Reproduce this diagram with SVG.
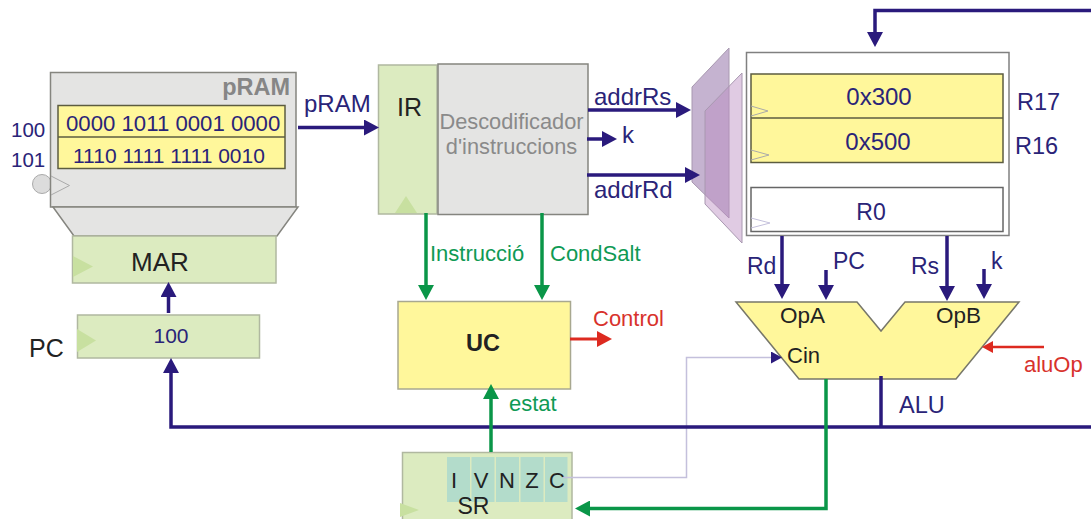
<svg xmlns="http://www.w3.org/2000/svg" width="1091" height="519" viewBox="0 0 1091 519">
<style>
text{font-family:"Liberation Sans",Arial,sans-serif;font-size:22px;fill:#2a2478}
.k{fill:#222}
.g{fill:#0f9a55}
.r{fill:#d8322c}
.m{text-anchor:middle}
.box{stroke:#85857f;stroke-width:1.5}
.gray{fill:#e4e4e3}
.grn{fill:#dcebc0;stroke:#b0b8a0;stroke-width:1.5}
.yel{fill:#fff79b;stroke:#5c5c40;stroke-width:1.5}
.tri{fill:#c8e0a0;stroke:none}
.clk{fill:none;stroke:#aaa;stroke-width:1}
.cell{fill:#b3dccb}
.n,.gr,.rd,.thin{fill:none}
.n{stroke:#2a1a7c;stroke-width:3.5}
.gr{stroke:#0a9648;stroke-width:3.5}
.rd{stroke:#dd2a20;stroke-width:3}
.thin{stroke:#c4c0dc;stroke-width:1.5}
</style>
<defs>
<marker id="an" markerUnits="userSpaceOnUse" markerWidth="15" markerHeight="16" refX="3" refY="8" orient="auto"><path d="M0 0L15 8L0 16Z" fill="#2a1a7c"/></marker>
<marker id="ag" markerUnits="userSpaceOnUse" markerWidth="15" markerHeight="16" refX="3" refY="8" orient="auto"><path d="M0 0L15 8L0 16Z" fill="#0a9648"/></marker>
<marker id="ar" markerUnits="userSpaceOnUse" markerWidth="15" markerHeight="16" refX="3" refY="8" orient="auto"><path d="M0 0L15 8L0 16Z" fill="#dd2a20"/></marker>
<marker id="as" markerUnits="userSpaceOnUse" markerWidth="11" markerHeight="12" refX="3" refY="6" orient="auto"><path d="M0 0L11 6L0 12Z" fill="#2a1a7c"/></marker>
<marker id="ad" markerUnits="userSpaceOnUse" markerWidth="11" markerHeight="12" refX="3" refY="6" orient="auto"><path d="M0 0L11 6L0 12Z" fill="#dd2a20"/></marker>
</defs>

<g id="pram">
<circle cx="42" cy="184" r="9.5" fill="#dcdcdc" stroke="#aaa"/>
<rect class="box gray" x="50.5" y="72.5" width="245.5" height="134.5"/>
<path class="box gray" d="M53 207H298L277 236H74Z"/>
<path class="clk" d="M51 176L69.500 185.500L51 195"/>
<rect class="yel" x="58" y="105.500" width="227" height="63"/>
<path d="M58 137H285" stroke="#5c5c40" stroke-width="1.500"/>
<text x="290" y="95" text-anchor="end" font-weight="bold" style="font-size:23.500px;fill:#868686">pRAM</text>
<text x="66" y="131" style="font-size:22.200px">0000 1011 0001 0000</text>
<text x="73" y="162.500" style="font-size:21px">1110 1111 1111 0010</text>
<text x="11" y="137" style="font-size:20.500px">100</text>
<text x="11" y="167" style="font-size:20.500px">101</text>
</g>

<g id="mar">
<rect class="grn" x="72.500" y="236" width="203.500" height="47"/>
<path class="tri" d="M73 256L93 266.500L73 277Z"/>
<text class="k m" x="160" y="270.500" style="font-size:26px">MAR</text>
</g>

<g id="pc">
<rect class="grn" x="77.500" y="315" width="182" height="43"/>
<path class="tri" d="M77 329L96 340.500L77 352Z"/>
<text class="m" x="171" y="342.500" style="font-size:21px">100</text>
<text class="k" x="29" y="357" style="font-size:25px">PC</text>
</g>

<g id="ir">
<rect class="grn" x="378.500" y="65" width="58.500" height="149"/>
<path class="tri" d="M395 213L406 196L417 213Z"/>
<text class="k" x="397" y="115.500" style="font-size:25px">IR</text>
</g>

<g id="decoder">
<rect class="box gray" x="438" y="64" width="150" height="150.500"/>
<text class="m" x="511.500" y="129" style="font-size:21.800px;fill:#8a8a8a">Descodificador</text>
<text class="m" x="511.500" y="154" style="font-size:21.800px;fill:#8a8a8a">d'instruccions</text>
</g>

<g id="mux">
<path d="M692 87L729 48V218L692 182Z" fill="#c5b3d0" stroke="#a898b0"/>
<path d="M705 111L742 73V243L705 204Z" fill="#bb8cc0" fill-opacity=".45" stroke="#a898b0"/>
</g>

<g id="regfile">
<rect x="746.500" y="52.500" width="262.500" height="183" fill="#fff" stroke="#808080" stroke-width="1.500"/>
<rect class="yel" x="751" y="74" width="252" height="88.500"/>
<path d="M751 118H1003" stroke="#5c5c40" stroke-width="1.500"/>
<rect x="751" y="187.500" width="252" height="44" fill="#fff" stroke="#666" stroke-width="1.500"/>
<path class="clk" d="M751 106L768 111L751 116M751 150L769 155L751 160"/>
<path d="M751 218L770 223L751 228" fill="none" stroke="#c4c0dc"/>
<text class="m" x="879" y="105" style="font-size:24px">0x300</text>
<text class="m" x="878" y="150" style="font-size:24px">0x500</text>
<text class="m" x="871" y="220" style="font-size:23px">R0</text>
<text x="1017" y="110" style="font-size:23.500px">R17</text>
<text x="1015" y="154" style="font-size:23.500px">R16</text>
</g>

<g id="alu">
<path d="M736 302H857L881 331L905 302H1019L956 379H799Z" fill="#fff79b" stroke="#77776a" stroke-width="1.500"/>
<text class="k" x="780" y="322.500" style="font-size:22.500px">OpA</text>
<text class="k" x="936" y="322.500" style="font-size:22.500px">OpB</text>
<text class="k" x="787" y="362.500">Cin</text>
</g>

<g id="uc">
<rect x="398" y="301.500" width="172.500" height="87.500" fill="#fff79b" stroke="#a8a890" stroke-width="1.500"/>
<text class="k m" x="483" y="350.500" font-weight="bold" style="font-size:23.500px">UC</text>
</g>

<g id="sr">
<rect class="grn" x="402.500" y="452.500" width="169.500" height="70"/>
<rect class="cell" x="447" y="457" width="23" height="45"/>
<rect class="cell" x="471.500" y="457" width="23" height="45"/>
<rect class="cell" x="496" y="457" width="23" height="45"/>
<rect class="cell" x="520.500" y="457" width="23" height="45"/>
<rect class="cell" x="545" y="457" width="22.500" height="45"/>
<path class="tri" d="M400 503L419 510L400 517Z"/>
<text class="k m" x="454" y="488">I</text>
<text class="k m" x="481" y="488">V</text>
<text class="k m" x="507" y="488">N</text>
<text class="k m" x="532" y="488">Z</text>
<text class="k m" x="557" y="488">C</text>
<text class="k m" x="473.500" y="514" style="font-size:23px">SR</text>
</g>

<g id="connectors">
<path class="thin" d="M563 477.500H686.500V357.500H772"/>
<path d="M771 357.500H774" stroke="#2a1a7c" stroke-width="2" marker-end="url(#as)"/>
<path class="n" d="M298 127.500H367" marker-end="url(#an)"/>
<path class="n" d="M168.500 313V294" marker-end="url(#an)"/>
<path class="n" d="M588 110H679" marker-end="url(#an)"/>
<path class="n" d="M587 139H605" marker-end="url(#an)"/>
<path class="n" d="M587 175H688" marker-end="url(#an)"/>
<path class="n" d="M1091 10.500H875V35" marker-end="url(#an)"/>
<path class="n" d="M782 236V287" marker-end="url(#an)"/>
<path class="n" d="M826 270V288" marker-end="url(#an)"/>
<path class="n" d="M947 236V289" marker-end="url(#an)"/>
<path class="n" d="M984 269V287" marker-end="url(#an)"/>
<path class="n" d="M1091 427H171V370" marker-end="url(#an)"/>
<path class="n" d="M881 376V427"/>
<path class="gr" d="M426 213V288" marker-end="url(#ag)"/>
<path class="gr" d="M542 213V288" marker-end="url(#ag)"/>
<path class="gr" d="M491 452V396" marker-end="url(#ag)"/>
<path class="gr" d="M826 379V508.500H587" marker-end="url(#ag)"/>
<path class="rd" d="M570 339H600" marker-end="url(#ar)"/>
<path d="M1044 347H990" fill="none" stroke="#dd2a20" stroke-width="2.500" marker-end="url(#ad)"/>
<text x="304" y="111.500" style="font-size:24px">pRAM</text>
<text x="594" y="105" style="font-size:24px">addrRs</text>
<text x="622" y="142.500" style="font-size:24px">k</text>
<text x="594" y="197.500" style="font-size:24px">addrRd</text>
<text class="g" x="430" y="260.500">Instrucció</text>
<text class="g" x="550" y="260.500">CondSalt</text>
<text class="r" x="593" y="325.500">Control</text>
<text class="g" x="509" y="410.500">estat</text>
<text x="747" y="274" style="font-size:23px">Rd</text>
<text x="833" y="269" style="font-size:23px">PC</text>
<text x="911" y="274" style="font-size:23px">Rs</text>
<text x="991" y="269" style="font-size:23px">k</text>
<text x="899" y="412.500" style="font-size:23.500px">ALU</text>
<text class="r" x="1024" y="371.500">aluOp</text>
</g>
</svg>
